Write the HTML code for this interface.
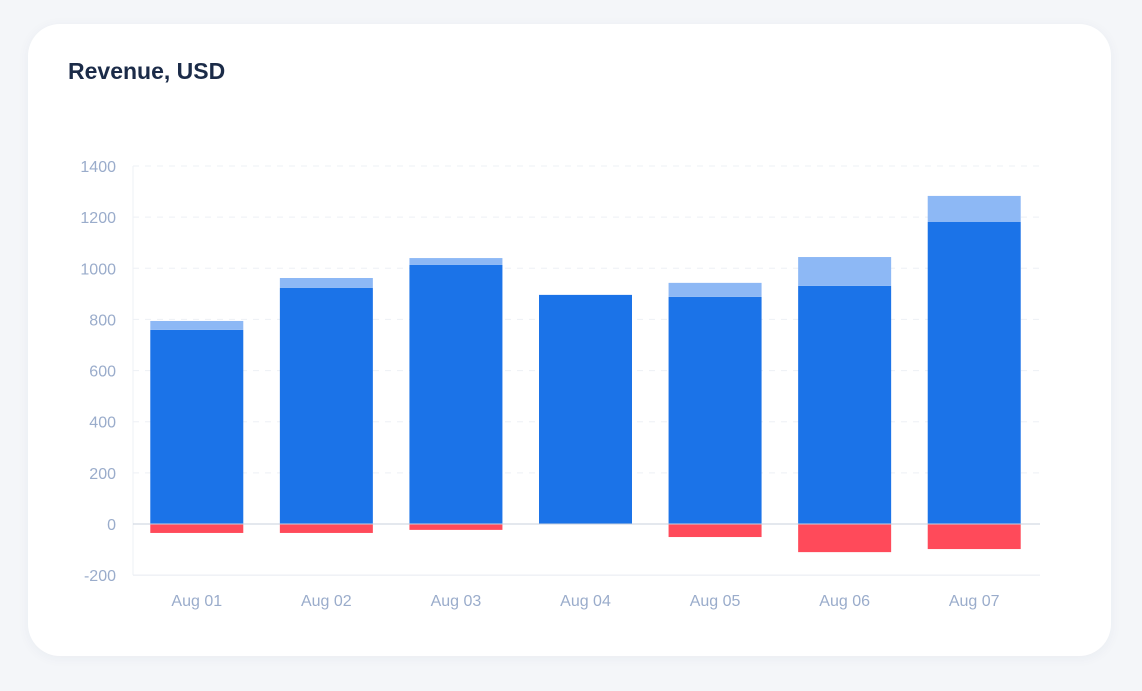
<!DOCTYPE html>
<html><head><meta charset="utf-8"><style>
body{margin:0;width:1142px;height:691px;background:#f4f6f9;font-family:"Liberation Sans",sans-serif;overflow:hidden}
#card{position:absolute;left:28px;top:24px;width:1083px;height:632px;background:#fff;border-radius:32px;box-shadow:0 2px 12px rgba(30,50,90,0.05)}
#title{position:absolute;left:40px;top:34px;font-size:23px;font-weight:bold;color:#1b2b48}
svg{position:absolute;left:0;top:0}
</style></head><body>
<div id="card"><div id="title">Revenue, USD</div></div>
<svg id="chart" width="1142" height="691"></svg>
<script>
const categories=["Aug 01","Aug 02","Aug 03","Aug 04","Aug 05","Aug 06","Aug 07"];
const baseValues=[759,923,1013,896,888,931,1181];
const extraValues=[35,39,27,0,55,113,102];
const negativeValues=[-35,-35,-23,0,-51,-110,-98];
const yTicks=[-200,0,200,400,600,800,1000,1200,1400];
const svg=document.getElementById('chart');const NS='http://www.w3.org/2000/svg';
const x0=133,x1=1040,y0=524,pxPer=(524-166)/1400;
const y=v=>y0-v*pxPer;
const step=(x1-x0)/categories.length,bw=93;
const xc=i=>x0+step*(i+0.5)-1;
function mk(t,a){const e=document.createElementNS(NS,t);for(const k in a)e.setAttribute(k,a[k]);svg.appendChild(e);return e;}
yTicks.forEach(t=>{
 if(t!==0&&t!==-200){const g=mk('line',{x1:x0,x2:x1,y1:y(t),y2:y(t),stroke:'#edf0f5','stroke-dasharray':'6 6'});
 
 }
 const l=mk('text',{x:116,y:y(t)+6,'text-anchor':'end','font-size':16,fill:'#9aaccb','font-family':'Liberation Sans, sans-serif'});l.textContent=t;
 
 
});
const ax=mk('line',{x1:x0,x2:x0,y1:y(1400),y2:y(-200),stroke:'#eef1f6'});


const bl=mk('line',{x1:x0,x2:x1,y1:y(-200),y2:y(-200),stroke:'#e6eaf0'});


categories.forEach((c,i)=>{
 const cx=xc(i),l=cx-bw/2;
 const b=mk('rect',{x:l,y:y(baseValues[i]),width:bw,height:y(0)-y(baseValues[i]),fill:'#1b73e8'});
 
 
 if(extraValues[i]>0){const e=mk('rect',{x:l,y:y(baseValues[i]+extraValues[i]),width:bw,height:extraValues[i]*pxPer,fill:'#8db8f5'});
 
 }
 if(negativeValues[i]<0){const n=mk('rect',{x:l,y:y(0),width:bw,height:-negativeValues[i]*pxPer,fill:'#ff4a5a'});
 
 }
 const t=mk('text',{x:cx,y:606,'text-anchor':'middle','font-size':16,fill:'#9aaccb','font-family':'Liberation Sans, sans-serif'});t.textContent=c;
 
 
});
const zl=mk('line',{x1:x0,x2:x1,y1:y(0),y2:y(0),stroke:'#c9d0dc'});


</script>
</body></html>
